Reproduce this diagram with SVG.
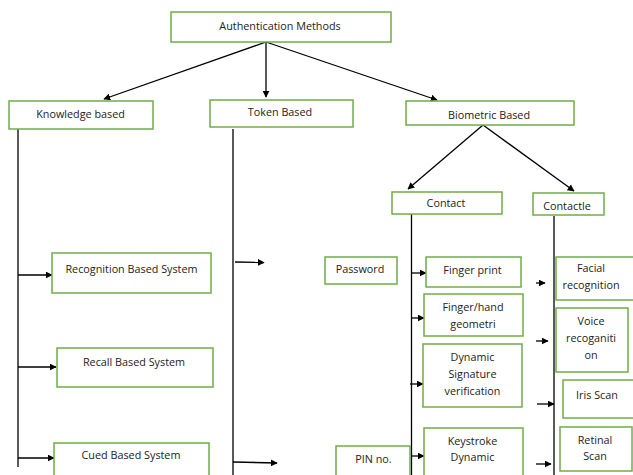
<svg xmlns="http://www.w3.org/2000/svg" width="633" height="475" viewBox="0 0 633 475">
<defs>
<marker id="ah" viewBox="0 0 10 10" refX="9" refY="5" markerWidth="7" markerHeight="7" markerUnits="userSpaceOnUse" orient="auto">
<path d="M0,0 L10,5 L0,10 z" fill="#000"/>
</marker>
<style>
.box{fill:#fff;stroke:#70ad47;stroke-width:1.5}
.t{font-family:"Open Sans","Liberation Sans",sans-serif;font-size:10.8px;fill:#222;text-anchor:middle}
.ln{stroke:#000;stroke-width:1.3;fill:none}
.ar{stroke:#000;stroke-width:1.3;fill:none;marker-end:url(#ah)}
</style>
</defs>
<rect width="633" height="475" fill="#fff"/>
<g id="connectors">
<line class="ar" x1="266" y1="42" x2="104" y2="99"/>
<line class="ar" x1="266" y1="42" x2="266" y2="97"/>
<line class="ar" x1="266" y1="42" x2="437" y2="100"/>
<line class="ar" x1="483" y1="125" x2="408" y2="189"/>
<line class="ar" x1="483" y1="125" x2="574" y2="191"/>
<line class="ln" x1="18" y1="128" x2="18" y2="467"/>
<line class="ar" x1="18" y1="275" x2="52" y2="275"/>
<line class="ar" x1="18" y1="367" x2="56" y2="367"/>
<line class="ar" x1="18" y1="458" x2="54" y2="458"/>
<line class="ln" x1="233" y1="129" x2="233" y2="475" stroke="#555"/>
<line class="ar" x1="235" y1="262" x2="264" y2="262.5"/>
<line class="ar" x1="233" y1="462" x2="277" y2="463"/>
<line class="ln" x1="411.5" y1="214" x2="411.5" y2="475"/>
<line class="ar" x1="412" y1="273" x2="426" y2="273"/>
<line class="ar" x1="412" y1="318" x2="424" y2="318"/>
<line class="ar" x1="410" y1="384" x2="423" y2="384"/>
<line class="ar" x1="412" y1="456" x2="424" y2="456"/>
<line class="ln" x1="554" y1="216" x2="554" y2="475" stroke="#444"/>
<line class="ar" x1="536" y1="283" x2="545" y2="283"/>
<line class="ar" x1="536" y1="341" x2="548" y2="341"/>
<line class="ar" x1="537" y1="404" x2="554" y2="404"/>
<line class="ar" x1="536" y1="464" x2="551" y2="464"/>
</g>
<g id="auth"><rect class="box" x="171" y="12" width="220" height="30"/><text class="t" x="280" y="29.5">Authentication Methods</text></g>
<g id="knowledge"><rect class="box" x="9" y="101" width="144" height="28"/><text class="t" x="80.5" y="117.5">Knowledge based</text></g>
<g id="token"><rect class="box" x="210" y="100" width="143" height="27"/><text class="t" x="280" y="115.5">Token Based</text></g>
<g id="biometric"><rect class="box" x="406" y="101" width="168" height="24"/><text class="t" x="489" y="118.5">Biometric Based</text></g>
<g id="contact"><rect class="box" x="392" y="192" width="110" height="22"/><text class="t" x="446" y="207">Contact</text></g>
<g id="contactle"><rect class="box" x="533" y="193" width="71" height="22"/><text class="t" x="567" y="209.5">Contactle</text></g>
<g id="recognition"><rect class="box" x="52" y="253" width="159" height="40"/><text class="t" x="131.5" y="273">Recognition Based System</text></g>
<g id="recall"><rect class="box" x="57" y="348" width="156" height="39"/><text class="t" x="134" y="366">Recall Based System</text></g>
<g id="cued"><rect class="box" x="54" y="443" width="155" height="33"/><text class="t" x="131" y="459">Cued Based System</text></g>
<g id="password"><rect class="box" x="325" y="257" width="72" height="27"/><text class="t" x="360" y="273">Password</text></g>
<g id="pin"><rect class="box" x="336" y="446" width="74" height="30"/><text class="t" x="373.5" y="463">PIN no.</text></g>
<g id="fingerprint"><rect class="box" x="426" y="257" width="95" height="30"/><text class="t" x="472.5" y="274">Finger print</text></g>
<g id="fingerhand"><rect class="box" x="424" y="294" width="99" height="42"/><text class="t" x="473" y="310.5">Finger/hand</text><text class="t" x="473" y="328">geometri</text></g>
<g id="dynsig"><rect class="box" x="423" y="344" width="99" height="63"/><text class="t" x="472.5" y="361">Dynamic</text><text class="t" x="472.5" y="377.5">Signature</text><text class="t" x="472.5" y="394.5">verification</text></g>
<g id="keystroke"><rect class="box" x="424" y="428" width="99" height="48"/><text class="t" x="472.5" y="445">Keystroke</text><text class="t" x="472.5" y="460.5">Dynamic</text></g>
<g id="facial"><rect class="box" x="556" y="257" width="78" height="43"/><text class="t" x="591" y="272">Facial</text><text class="t" x="591" y="289">recognition</text></g>
<g id="voice"><rect class="box" x="556" y="308" width="72" height="64"/><text class="t" x="591" y="325">Voice</text><text class="t" x="591" y="341.5">recoganiti</text><text class="t" x="591" y="359">on</text></g>
<g id="iris"><rect class="box" x="563" y="380" width="71" height="38"/><text class="t" x="597" y="399">Iris Scan</text></g>
<g id="retinal"><rect class="box" x="560" y="427" width="72" height="44"/><text class="t" x="595" y="444">Retinal</text><text class="t" x="595" y="459.5">Scan</text></g>
</svg>
